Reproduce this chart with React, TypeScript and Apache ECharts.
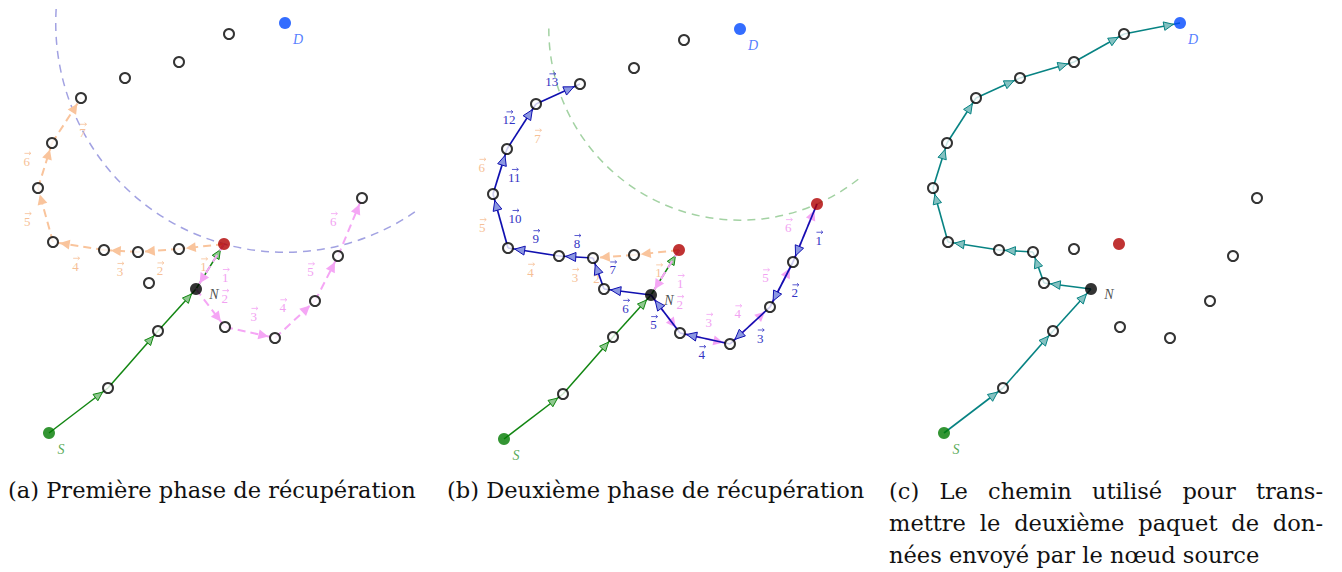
import React, { useEffect, useRef } from "react";
import * as echarts from "echarts";

// ---------- data (panel-local units, y grows downward) ----------
const nodeIds = ["D", "n1", "n2", "n3", "n4", "n5", "n6", "n7", "n8", "n9", "n10", "n11", "R", "n12", "N", "n13", "n14", "S", "n15", "n16", "n17", "n18"];
const nodeX = [285, 229, 179, 125, 81, 52, 38, 362, 53, 104, 138, 179, 224, 149, 196, 158, 108, 49, 225, 275, 315, 338];
const nodeY = [23, 34, 62, 78, 98, 143, 188, 198, 242, 250, 252, 249, 244, 283, 289, 331, 388, 433, 327, 338, 301, 256];

const greenPath = ["S", "n14", "n13", "N", "R"];
const orangePath = ["R", "n11", "n10", "n9", "n8", "n6", "n5", "n4"];
const orangeSides = [1, 1, 1, 1, 1, 1, -1];
const orangeLabelTA = [0.5, 0.5, 0.5, 0.5, 0.5, 0.5, 0.5];
const orangeLabelTB = [0.5, 0.95, 0.5, 0.5, 0.5, 0.5, 0.5];
const orangeDrawnB = 2;
const pinkPath = ["R", "N", "n15", "n16", "n17", "n18", "n7"];
const pinkSides = [1, 1, 1, 1, 1, 1];
const bluePath = ["n7", "n18", "n17", "n16", "n15", "N", "n12", "n10", "n9", "n8", "n6", "n5", "n4", "n3"];
const blueSides = [1, 1, 1, 1, 1, 1, -1, -1, -1, -1, -1, 1, 1];
const tealPath = ["S", "n14", "n13", "N", "n12", "n10", "n9", "n8", "n6", "n5", "n4", "n3", "n2", "n1", "D"];

const redNodes = [["R"], ["R", "n7"], ["R"]];
const arcRefNode = ["R", "n7"];
const arcStartDeg = [55.5, 51.8];
const arcEndDeg = [183.5, 180.5];

const captionA = "(a) Première phase de récupération";
const captionB = "(b) Deuxième phase de récupération";
const captionC = ["(c) Le chemin utilisé pour trans-", "mettre le deuxième paquet de don-", "nées envoyé par le nœud source"];

// ---------- layout ----------
const PANEL_W = 440;
const PANEL_H = 460;
const panelLeft = [0, 455, 895];
const panelTop = [0, 6, 0];
const SERIF = '"DejaVu Serif", serif';
const NUMFONT = '"Liberation Serif", "DejaVu Serif", serif';

function pos(id: string) {
  const i = nodeIds.indexOf(id);
  return [nodeX[i], nodeY[i]];
}

function edges(path: string[], sides?: number[], labelT?: number[], drawn?: number) {
  const out: number[][] = [];
  for (let i = 0; i < path.length - 1; i++) {
    const a = pos(path[i]);
    const b = pos(path[i + 1]);
    out.push([a[0], a[1], b[0], b[1], i + 1, sides ? sides[i] : 0, labelT ? labelT[i] : 0.5, drawn == null || i < drawn ? 1 : 0]);
  }
  return out;
}

type EdgeStyle = {
  stroke: string; lineWidth: number; dash: number[] | null;
  arrowFill: string; arrowStroke: string | null; L: number; W: number;
  label: boolean; labelColor: string; labelDist: number;
};

const stGreen: EdgeStyle = { stroke: "#128612", lineWidth: 1.5, dash: null, arrowFill: "#8fc88f", arrowStroke: "#128612", L: 9, W: 4, label: false, labelColor: "", labelDist: 0 };
const stTeal: EdgeStyle = { stroke: "#078383", lineWidth: 1.6, dash: null, arrowFill: "#84c1c1", arrowStroke: "#078383", L: 9.5, W: 4.3, label: false, labelColor: "", labelDist: 0 };
const stBlue: EdgeStyle = { stroke: "#1010b0", lineWidth: 1.7, dash: null, arrowFill: "#8b97e2", arrowStroke: "#1010b0", L: 10, W: 4.5, label: true, labelColor: "#3434c4", labelDist: 15 };
const stOrange: EdgeStyle = { stroke: "#f9c49c", lineWidth: 2, dash: [8, 5], arrowFill: "#f9c49c", arrowStroke: null, L: 10, W: 5, label: true, labelColor: "#f6bf96", labelDist: 19 };
const stPink: EdgeStyle = { stroke: "#f5a6f5", lineWidth: 2, dash: [8, 5], arrowFill: "#f5a6f5", arrowStroke: null, L: 10, W: 5, label: true, labelColor: "#f2a2f2", labelDist: 18 };

function vecLabel(lx: number, ly: number, num: number, color: string) {
  const ay = ly - 6.5;
  const cx = lx + 0.8;
  const half = 3.2;
  return [
    {
      type: "text",
      x: lx,
      y: ly + 1.5,
      style: {
        text: String(num), fontSize: 13, fontFamily: NUMFONT, fill: color,
        align: "center", verticalAlign: "middle", textAlign: "center", textVerticalAlign: "middle",
      },
    },
    {
      type: "line",
      shape: { x1: cx - half, y1: ay, x2: cx + half, y2: ay },
      style: { stroke: color, lineWidth: 0.8, fill: null },
    },
    {
      type: "polyline",
      shape: { points: [[cx + half - 1.8, ay - 1.6], [cx + half, ay], [cx + half - 1.8, ay + 1.6]] },
      style: { stroke: color, lineWidth: 0.8, fill: null },
    },
  ];
}

function edgeSeries(gi: number, data: number[][], st: EdgeStyle, z: number) {
  return {
    type: "custom",
    xAxisIndex: gi,
    yAxisIndex: gi,
    z,
    silent: true,
    clip: false,
    data,
    encode: { x: [0, 2], y: [1, 3] },
    renderItem: (_params: any, api: any) => {
      const p1 = api.coord([api.value(0), api.value(1)]);
      const p2 = api.coord([api.value(2), api.value(3)]);
      const num = api.value(4);
      const side = api.value(5);
      const t = api.value(6);
      const drawn = api.value(7);
      const dx = p2[0] - p1[0];
      const dy = p2[1] - p1[1];
      const len = Math.hypot(dx, dy) || 1;
      const ux = dx / len;
      const uy = dy / len;
      const children: any[] = [];
      if (drawn) {
        children.push({
          type: "line",
          shape: { x1: p1[0], y1: p1[1], x2: p2[0], y2: p2[1] },
          style: { stroke: st.stroke, lineWidth: st.lineWidth, lineDash: st.dash || undefined, fill: null },
        });
        const gap = 6.8;
        const tip = [p2[0] - ux * gap, p2[1] - uy * gap];
        const base = [tip[0] - ux * st.L, tip[1] - uy * st.L];
        const nx = -uy;
        const ny = ux;
        children.push({
          type: "polygon",
          shape: { points: [tip, [base[0] + nx * st.W, base[1] + ny * st.W], [base[0] - nx * st.W, base[1] - ny * st.W]] },
          style: st.arrowStroke
            ? { fill: st.arrowFill, stroke: st.arrowStroke, lineWidth: 1, lineJoin: "miter" }
            : { fill: st.arrowFill, stroke: null },
        });
      }
      if (st.label) {
        const mx = p1[0] + dx * t;
        const my = p1[1] + dy * t;
        const lx = mx + side * st.labelDist * uy;
        const ly = my - side * st.labelDist * ux;
        vecLabel(lx, ly, num, st.labelColor).forEach((c) => children.push(c));
      }
      return { type: "group", children };
    },
  };
}

function arcSeries(gi: number, color: string) {
  const d = pos("D");
  const r = pos(arcRefNode[gi]);
  return {
    type: "custom",
    xAxisIndex: gi,
    yAxisIndex: gi,
    z: 1,
    silent: true,
    clip: false,
    data: [[d[0], d[1], r[0], r[1]]],
    encode: { x: [0, 2], y: [1, 3] },
    renderItem: (_params: any, api: any) => {
      const c = api.coord([api.value(0), api.value(1)]);
      const e = api.coord([api.value(2), api.value(3)]);
      const rad = Math.hypot(e[0] - c[0], e[1] - c[1]);
      return {
        type: "arc",
        shape: {
          cx: c[0], cy: c[1], r: rad,
          startAngle: (arcStartDeg[gi] * Math.PI) / 180,
          endAngle: (arcEndDeg[gi] * Math.PI) / 180,
          clockwise: true,
        },
        style: { stroke: color, lineWidth: 1.5, lineDash: [8, 6], fill: null },
      };
    },
  };
}

function nodeSeries(gi: number) {
  const reds = redNodes[gi];
  const data = nodeIds.map((id, i) => {
    const item: any = {
      value: [nodeX[i], nodeY[i]],
      symbolSize: 10,
      itemStyle: { color: "#ffffff", borderColor: "#000000", borderWidth: 2 },
    };
    const lab = (text: string, color: string, ox: number, oy: number) => ({
      show: true, formatter: text, position: "inside", offset: [ox, oy],
      color, fontFamily: NUMFONT, fontStyle: "italic", fontSize: 14,
    });
    if (id === "D") {
      item.symbolSize = 12;
      item.itemStyle = { color: "#0048ff", borderWidth: 0 };
      item.label = lab("D", "#2a5eff", 13, 16);
    } else if (id === "S") {
      item.symbolSize = 12;
      item.itemStyle = { color: "#007a00", borderWidth: 0 };
      item.label = lab("S", "#2c942c", 12, 16);
    } else if (id === "N") {
      item.symbolSize = 12;
      item.itemStyle = { color: "#000000", borderWidth: 0 };
      item.label = lab("N", "#222222", 18, 5);
    } else if (reds.indexOf(id) >= 0) {
      item.symbolSize = 12;
      item.itemStyle = { color: "#b00000", borderWidth: 0 };
    }
    return item;
  });
  return {
    type: "scatter",
    xAxisIndex: gi,
    yAxisIndex: gi,
    z: 6,
    silent: true,
    symbol: "circle",
    data,
  };
}

function buildCaptions() {
  const canvas = document.createElement("canvas");
  const ctx = canvas.getContext("2d") as CanvasRenderingContext2D;
  ctx.font = "20px " + SERIF;
  const wA = ctx.measureText(captionA).width || 400;
  const fs = Math.max(14, Math.min(24, (20 * 408) / wA));
  ctx.font = fs + "px " + SERIF;
  const els: any[] = [];
  const txt = (text: string, x: number, y: number) => ({
    type: "text",
    x,
    y,
    silent: true,
    style: {
      text, fontSize: fs, fontFamily: SERIF, fill: "#111111",
      align: "left", verticalAlign: "middle", textAlign: "left", textVerticalAlign: "middle",
    },
  });
  els.push(txt(captionA, 8, 490));
  els.push(txt(captionB, 447, 490));
  const x0 = 889;
  const x1 = 1323;
  captionC.forEach((line, li) => {
    const y = 491 + li * 32;
    const words = line.split(" ");
    if (li === captionC.length - 1) {
      els.push(txt(line, x0, y));
      return;
    }
    const widths = words.map((w) => ctx.measureText(w).width);
    const total = widths.reduce((s, v) => s + v, 0);
    const gap = (x1 - x0 - total) / (words.length - 1);
    let x = x0;
    words.forEach((w, wi) => {
      els.push(txt(w, x, y));
      x += widths[wi] + gap;
    });
  });
  return els;
}

export default function App() {
  const ref = useRef<HTMLDivElement>(null);
  useEffect(() => {
    if (!ref.current) return;
    const chart = echarts.init(ref.current, undefined, { renderer: "svg" });
    const grids = [0, 1, 2].map((i) => ({ left: panelLeft[i], top: panelTop[i], width: PANEL_W, height: PANEL_H, show: false }));
    const xAxes = [0, 1, 2].map((i) => ({ type: "value", gridIndex: i, min: 0, max: PANEL_W, show: false }));
    const yAxes = [0, 1, 2].map((i) => ({ type: "value", gridIndex: i, min: 0, max: PANEL_H, inverse: true, show: false }));

    const series: any[] = [
      // panel a
      arcSeries(0, "#a2a2e2"),
      edgeSeries(0, edges(greenPath), stGreen, 2),
      edgeSeries(0, edges(orangePath, orangeSides, orangeLabelTA), stOrange, 3),
      edgeSeries(0, edges(pinkPath, pinkSides), stPink, 3),
      nodeSeries(0),
      // panel b
      arcSeries(1, "#a3d2a3"),
      edgeSeries(1, edges(greenPath), stGreen, 2),
      edgeSeries(1, edges(orangePath, orangeSides, orangeLabelTB, orangeDrawnB), stOrange, 3),
      edgeSeries(1, edges(pinkPath, pinkSides), stPink, 3),
      edgeSeries(1, edges(bluePath, blueSides), stBlue, 4),
      nodeSeries(1),
      // panel c
      edgeSeries(2, edges(tealPath), stTeal, 2),
      nodeSeries(2),
    ];

    chart.setOption({
      animation: false,
      backgroundColor: "#ffffff",
      grid: grids,
      xAxis: xAxes,
      yAxis: yAxes,
      series,
      graphic: { elements: buildCaptions() },
    });
    return () => chart.dispose();
  }, []);
  return <div ref={ref} style={{ position: "absolute", left: 0, top: 0, width: 1342, height: 572 }} />;
}
